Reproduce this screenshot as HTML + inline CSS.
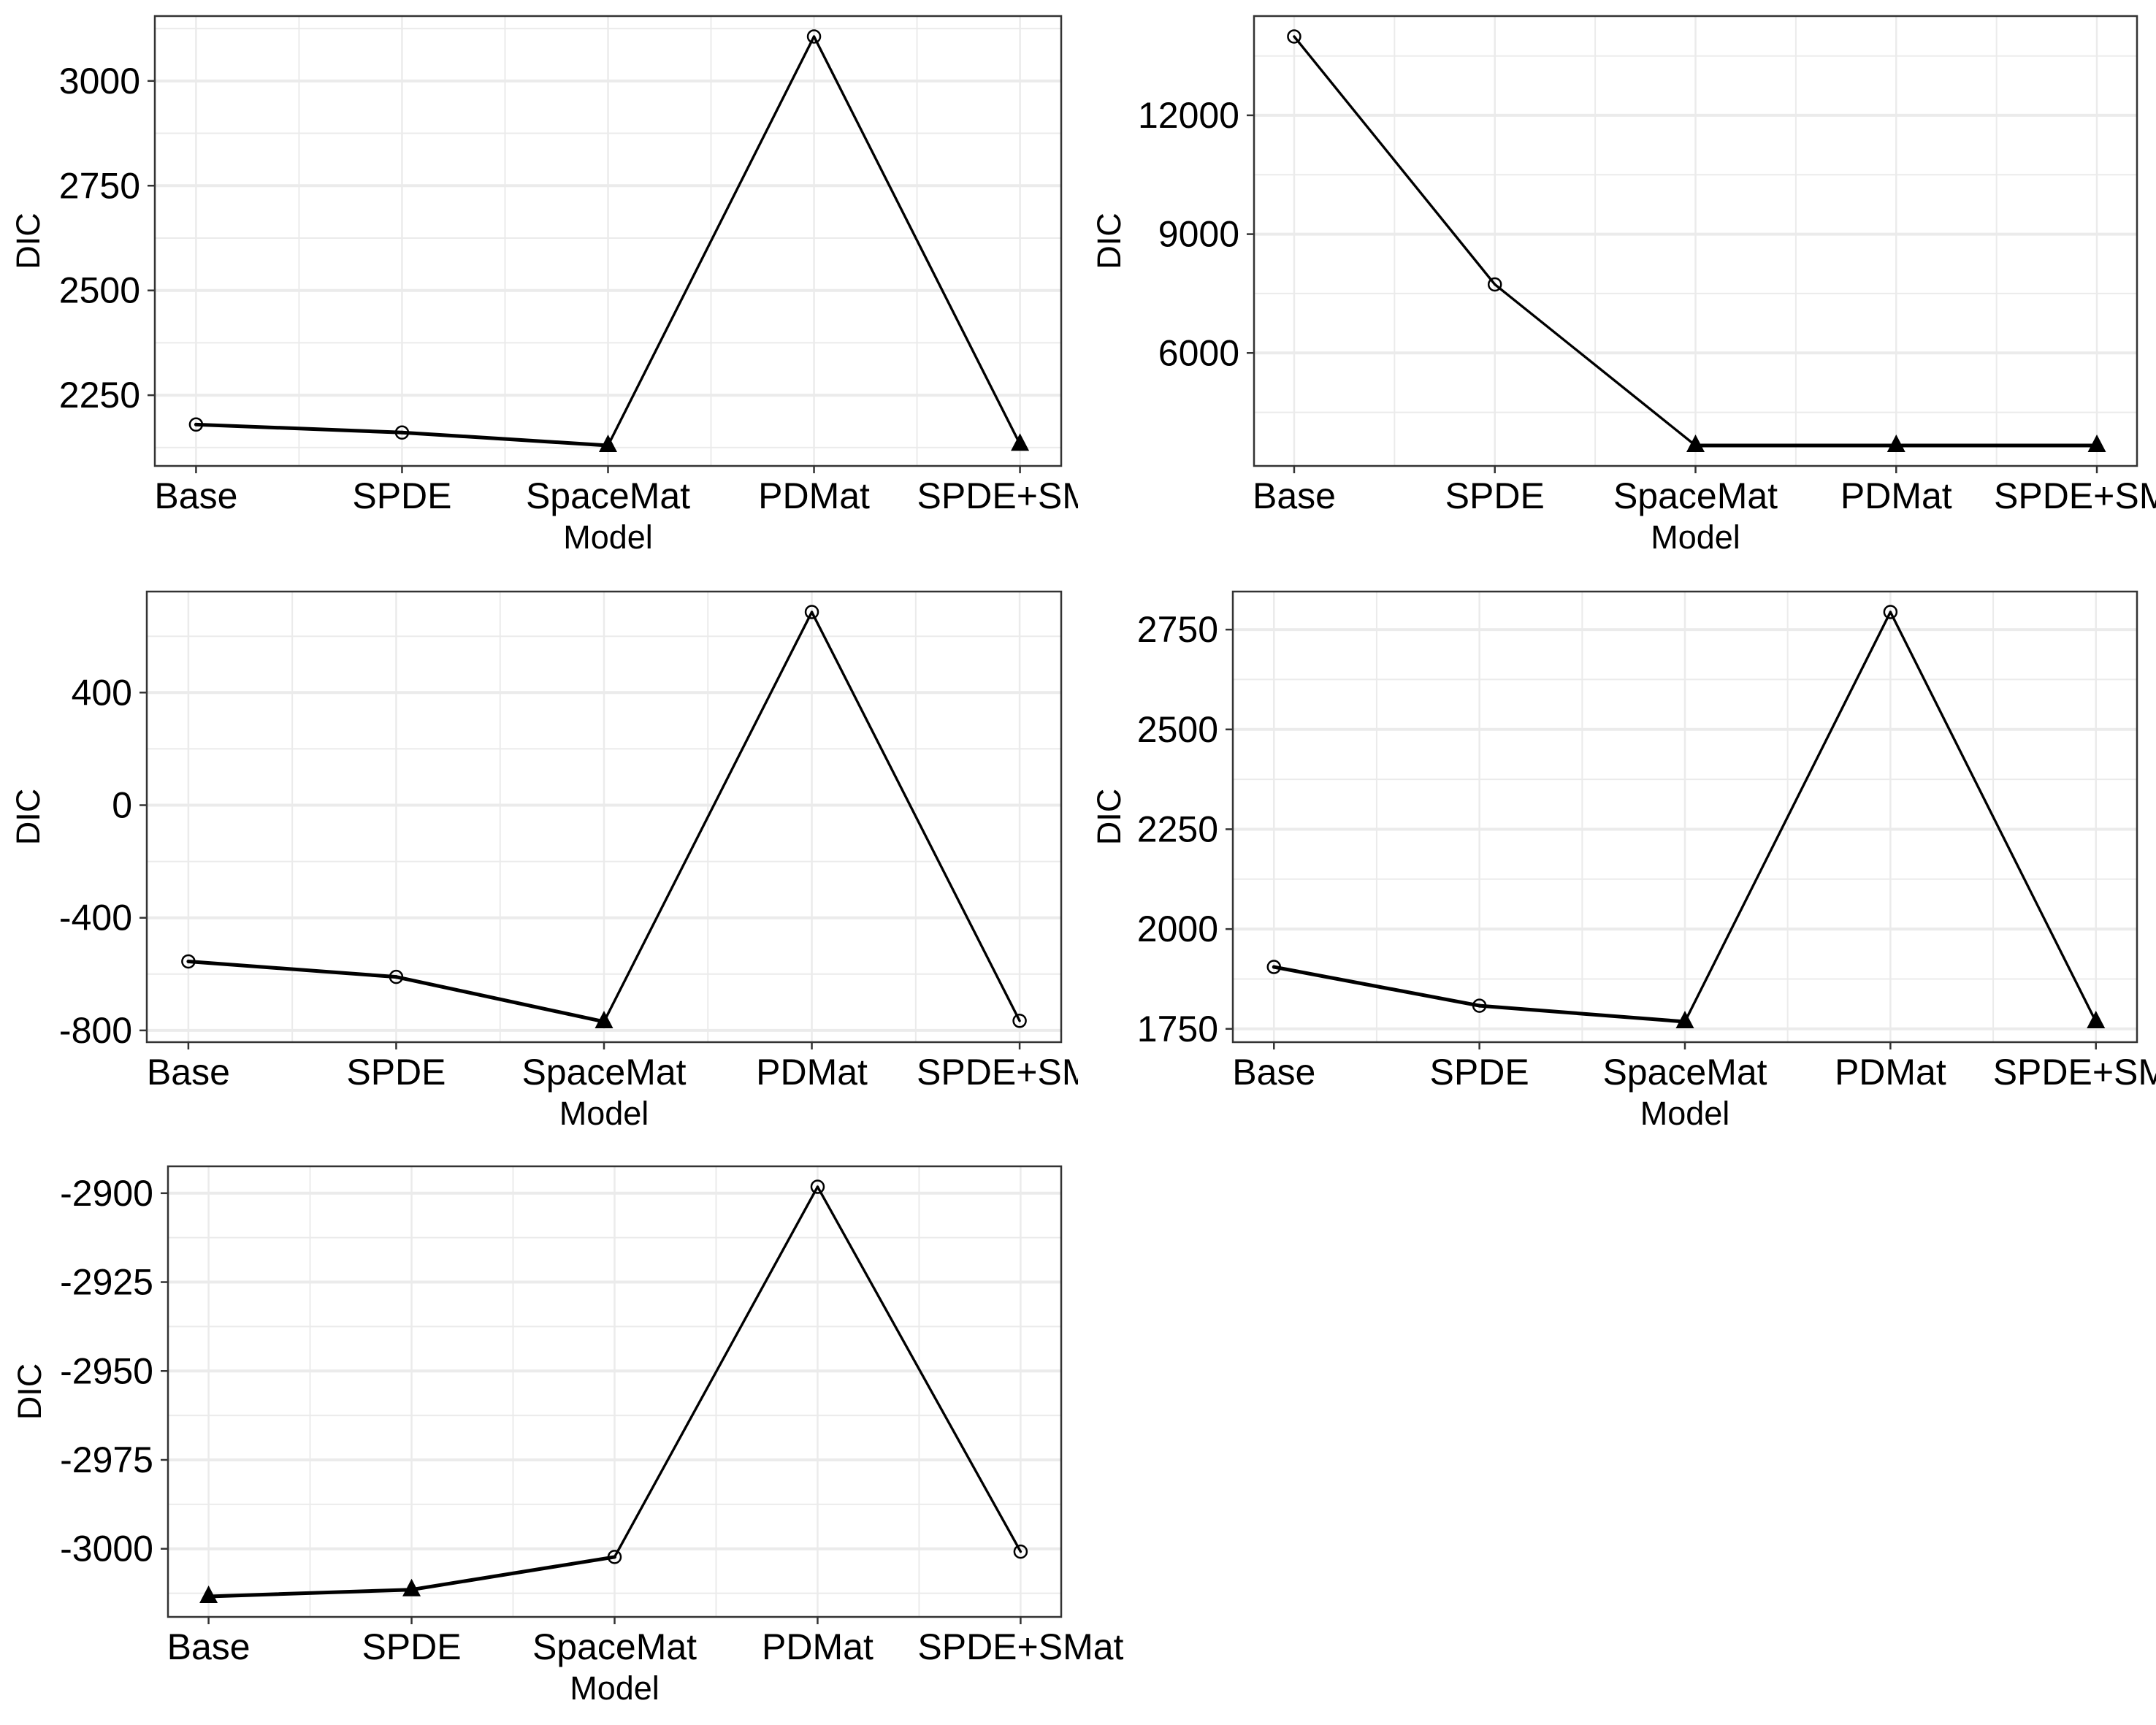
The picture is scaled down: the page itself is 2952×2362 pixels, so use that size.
<!DOCTYPE html>
<html><head><meta charset="utf-8"><style>
html,body{margin:0;padding:0;background:#fff;}
svg{display:block;font-family:"Liberation Sans",Arial,sans-serif;}
</style></head><body>
<svg id="fig" width="2952" height="2362" viewBox="0 0 2952 2362" xmlns="http://www.w3.org/2000/svg">
<rect width="2952" height="2362" fill="#fff"/>
</svg>
<script>
const categories = ["Base","SPDE","SpaceMat","PDMat","SPDE+SMat"];
// panel 1
const p1Values = [2180, 2161, 2130, 3106, 2133];
const p1Shapes = ["circle","circle","triangle","circle","triangle"];
const p1Ticks = [2250, 2500, 2750, 3000];
const p1TickLabels = ["2250","2500","2750","3000"];
// panel 2
const p2Values = [13990, 7730, 3663, 3663, 3663];
const p2Shapes = ["circle","circle","triangle","triangle","triangle"];
const p2Ticks = [6000, 9000, 12000];
const p2TickLabels = ["6000","9000","12000"];
// panel 3
const p3Values = [-555, -610, -769, 686, -766];
const p3Shapes = ["circle","circle","triangle","circle","circle"];
const p3Ticks = [-800, -400, 0, 400];
const p3TickLabels = ["-800","-400","0","400"];
// panel 4
const p4Values = [1905, 1808, 1768, 2794, 1768];
const p4Shapes = ["circle","circle","triangle","circle","triangle"];
const p4Ticks = [1750, 2000, 2250, 2500, 2750];
const p4TickLabels = ["1750","2000","2250","2500","2750"];
// panel 5
const p5Values = [-3013.4, -3011.5, -3002.3, -2898.2, -3000.8];
const p5Shapes = ["triangle","triangle","circle","circle","circle"];
const p5Ticks = [-3000, -2975, -2950, -2925, -2900];
const p5TickLabels = ["-3000","-2975","-2950","-2925","-2900"];

const NS = "http://www.w3.org/2000/svg";
const svg = document.getElementById("fig");
function mk(tag, attrs, parent){
  const e = document.createElementNS(NS, tag);
  for (const k in attrs) e.setAttribute(k, attrs[k]);
  parent.appendChild(e);
  return e;
}

function panel(id, box, values, shapes, ticks, tickLabels, thick, clipR){
  const g = mk("g", {}, svg);
  
  
  if (clipR){
    const cp = mk("clipPath", {id:"clip"+id}, g);
    mk("rect", {x:0, y:box.T-30, width:clipR, height:box.B-box.T+200}, cp);
    g.setAttribute("clip-path", "url(#clip"+id+")");
  }
  const lo = Math.min(...values), hi = Math.max(...values);
  const ex = (hi - lo) * 0.05;
  const y0 = lo - ex, y1 = hi + ex;
  const yS = v => box.B - (v - y0) / (y1 - y0) * (box.B - box.T);
  const step = (box.R - box.L) / (categories.length - 1 + 0.4);
  const xS = i => box.L + step * (0.2 + i);
  const tstep = ticks[1] - ticks[0];
  for (let t = ticks[0] - tstep*3 + tstep/2; t < y1 + tstep; t += tstep){
    const y = yS(t);
    if (y > box.T && y < box.B){
      const l = mk("line", {x1:box.L, x2:box.R, y1:y, y2:y, stroke:"#ebebeb", "stroke-width":2}, g);
      
      
    }
  }
  for (let i = 0; i < categories.length - 1; i++){
    const x = (xS(i) + xS(i+1)) / 2;
    const l = mk("line", {x1:x, x2:x, y1:box.T, y2:box.B, stroke:"#ebebeb", "stroke-width":2}, g);
    
    
  }
  ticks.forEach((t, k) => {
    const y = yS(t);
    const l = mk("line", {x1:box.L, x2:box.R, y1:y, y2:y, stroke:"#ebebeb", "stroke-width":4}, g);
    
    
    mk("line", {x1:box.L-10, x2:box.L, y1:y, y2:y, stroke:"#333", "stroke-width":2.5}, g);
    const tx = mk("text", {x:box.L-20, y:y+17, "text-anchor":"end", "font-size":50, fill:"#000"}, g);
    tx.textContent = tickLabels[k];
    
    
  });
  categories.forEach((c, i) => {
    const x = xS(i);
    const l = mk("line", {x1:x, x2:x, y1:box.T, y2:box.B, stroke:"#ebebeb", "stroke-width":2.5}, g);
    
    
    mk("line", {x1:x, x2:x, y1:box.B, y2:box.B+10, stroke:"#333", "stroke-width":2.5}, g);
    const tx = mk("text", {x:x, y:box.B+58, "text-anchor":"middle", "font-size":50, fill:"#000"}, g);
    tx.textContent = c;
    
    
  });
  for (let i = 0; i < values.length - 1; i++){
    const s = mk("line", {x1:xS(i), y1:yS(values[i]), x2:xS(i+1), y2:yS(values[i+1]), stroke:"#000", "stroke-width": thick.includes(i) ? 5 : 3.4, "stroke-linecap":"round"}, g);
    
    
  }
  values.forEach((v, i) => {
    const x = xS(i), y = yS(v);
    let p;
    if (shapes[i] === "circle"){
      p = mk("circle", {cx:x, cy:y, r:8.5, fill:"none", stroke:"#000", "stroke-width":2.5}, g);
    } else {
      p = mk("polygon", {points:(x)+","+(y-15)+" "+(x-12.5)+","+(y+9)+" "+(x+12.5)+","+(y+9), fill:"#000"}, g);
    }
    
    
  });
  const fr = mk("rect", {x:box.L, y:box.T, width:box.R-box.L, height:box.B-box.T, fill:"none", stroke:"#333", "stroke-width":2.5}, g);
  
  
  const xt = mk("text", {x:(box.L+box.R)/2, y:box.B+113, "text-anchor":"middle", "font-size":45, fill:"#000"}, g);
  xt.textContent = "Model";
  
  
  const yc = (box.T + box.B)/2;
  const yt = mk("text", {x:box.yl, y:yc, "text-anchor":"middle", "font-size":45, fill:"#000", transform:"rotate(-90 "+(box.yl+0)+" "+yc+")", dy:"0.36em"}, g);
  yt.textContent = "DIC";
  
  
}

panel(1, {L:212,R:1453,T:22,B:638,yl:38}, p1Values, p1Shapes, p1Ticks, p1TickLabels, [0,1], 1476);
panel(2, {L:1717,R:2926,T:22,B:638,yl:1518}, p2Values, p2Shapes, p2Ticks, p2TickLabels, [2,3], null);
panel(3, {L:201,R:1453,T:810,B:1427,yl:38}, p3Values, p3Shapes, p3Ticks, p3TickLabels, [0,1], 1476);
panel(4, {L:1688,R:2926,T:810,B:1427,yl:1518}, p4Values, p4Shapes, p4Ticks, p4TickLabels, [0,1], null);
panel(5, {L:230,R:1453,T:1597,B:2214,yl:40}, p5Values, p5Shapes, p5Ticks, p5TickLabels, [0,1], null);
</script>
</body></html>
